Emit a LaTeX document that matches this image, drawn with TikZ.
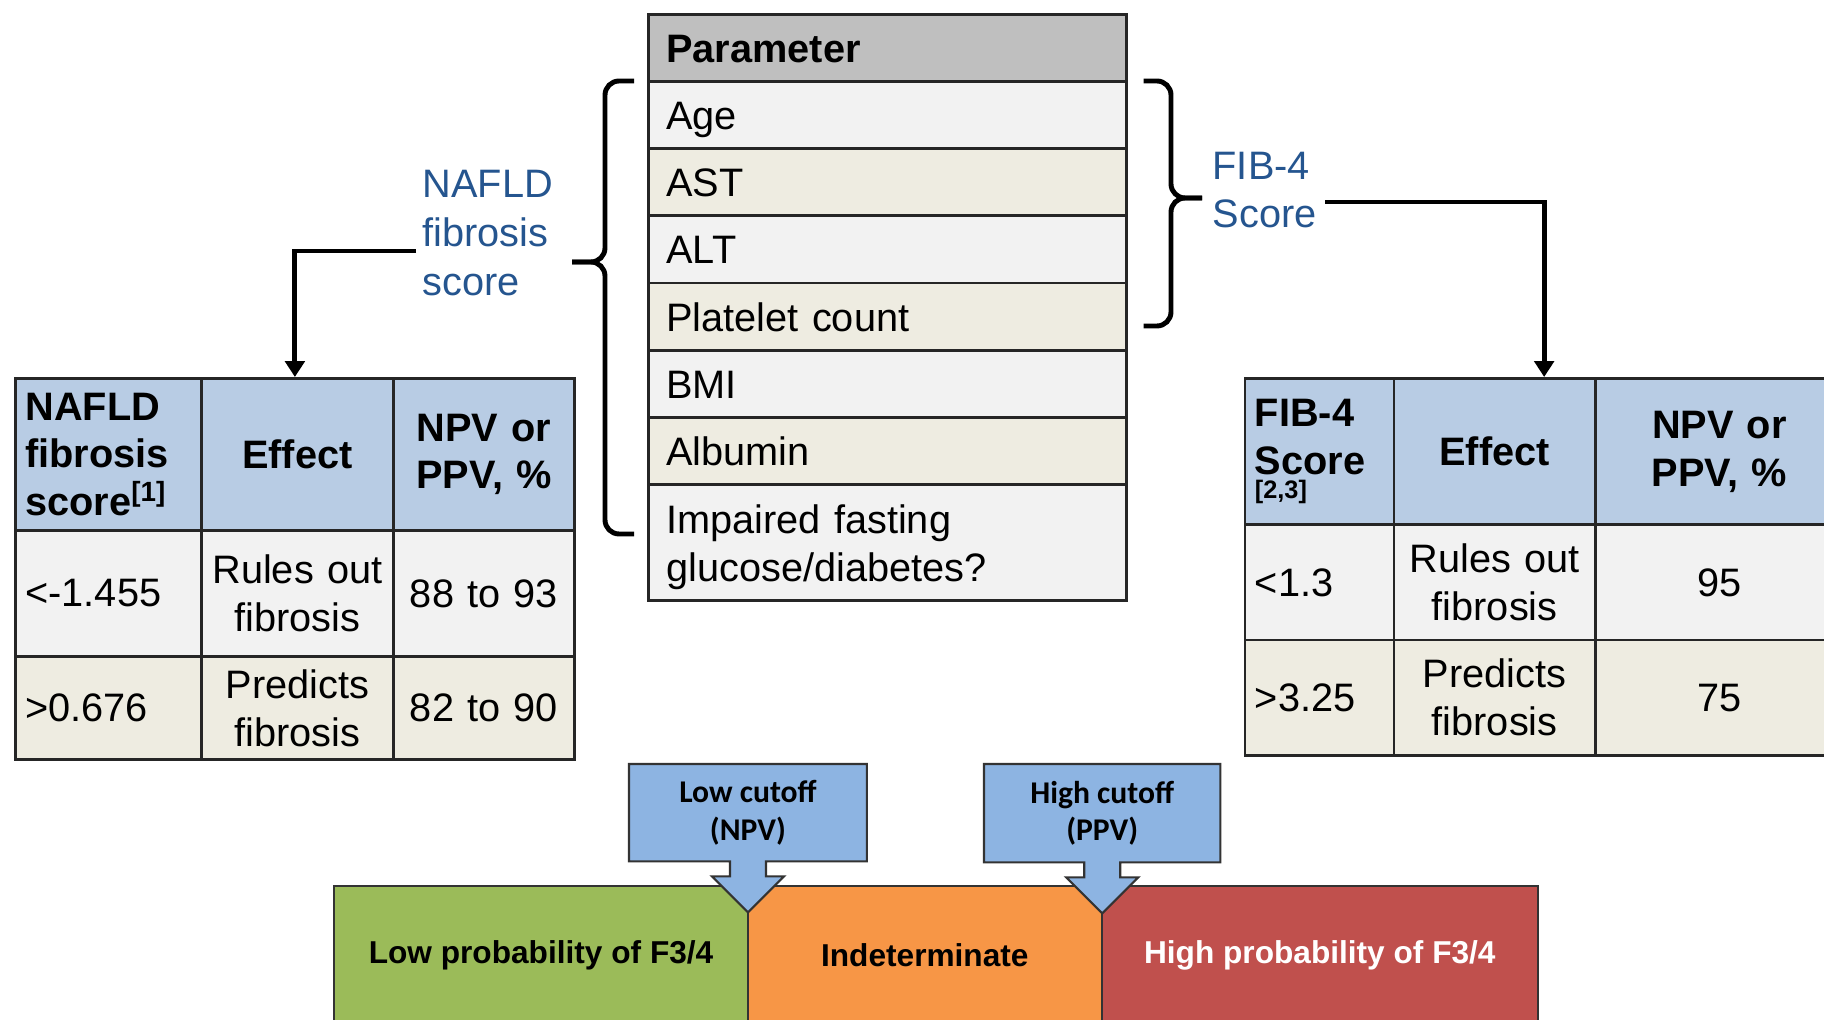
\documentclass[tikz,border=0pt]{standalone}
\usepackage{fontspec}
\setmainfont{Liberation Sans}
\newfontfamily\calibri{Carlito}
\usetikzlibrary{arrows.meta, calc, backgrounds}

\definecolor{headblue}{HTML}{B8CCE4}
\definecolor{rowgray}{HTML}{F2F2F2}
\definecolor{rowbeige}{HTML}{EEECE1}
\definecolor{paramgray}{HTML}{BFBFBF}
\definecolor{scoreblue}{HTML}{25558F}
\definecolor{cutblue}{HTML}{8DB4E2}
\definecolor{lowgreen}{HTML}{9BBB59}
\definecolor{midorange}{HTML}{F79646}
\definecolor{highred}{HTML}{C0504D}

\newcommand{\tabfont}{\fontsize{11.3}{13.6}\selectfont}

\tikzset{
  cell/.style={draw=black!85, line width=0.8pt, anchor=north west, inner xsep=0.1cm, inner ysep=0pt, font=\tabfont},
  head/.style={cell, fill=headblue, font=\tabfont\bfseries},
  param/.style={cell, inner xsep=0.18cm, text width=4.42cm, minimum height=0.672cm, align=left},
  oneline/.style={text height=8.2pt, text depth=0pt},
  score/.style={text=scoreblue, font=\fontsize{11.3}{13.9}\selectfont, align=left, inner sep=0pt, anchor=west},
  conn/.style={line width=1.4pt, -{Triangle[length=4.5pt,width=5.5pt]}},
  brace/.style={line width=1.4pt, rounded corners=4pt},
  bar/.style={draw=black!80, line width=0.6pt, anchor=north west, minimum height=1.38cm, font=\fontsize{9}{11}\selectfont\bfseries},
  cutoff/.style={anchor=north west, align=center, inner sep=0pt, font=\calibri\bfseries\fontsize{9}{10.6}\selectfont},
  callout/.style={fill=cutblue, draw=black!80, line width=0.6pt}
}

\begin{document}
\begin{tikzpicture}

    \useasboundingbox (0,0) rectangle (18.24,-10.2);

    % Parameter table
    \node[param, oneline, fill=paramgray, font=\tabfont\bfseries] (par0) at (6.47,-0.13) {Parameter};
    \foreach \txt/\col [count=\i] in {Age/rowgray, AST/rowbeige, ALT/rowgray, Platelet count/rowbeige, BMI/rowgray, Albumin/rowbeige} {
        \node[param, oneline, fill=\col] (par\i) at (6.47,{-0.80-(\i-1)*0.672}) {\txt};
    }
    \node[param, fill=rowgray, minimum height=1.16cm] (par7) at (6.47,-4.83) {\rule{0pt}{11pt}Impaired fasting\\glucose/diabetes?};

    % Braces
    \draw[brace] (6.34,-0.81) -- (6.05,-0.81) -- (6.05,-2.62) -- (5.72,-2.62);
    \draw[brace] (6.34,-5.34) -- (6.05,-5.34) -- (6.05,-2.62) -- (5.72,-2.62);
    \draw[brace] (11.435,-0.81) -- (11.71,-0.81) -- (11.71,-1.98) -- (12.02,-1.98);
    \draw[brace] (11.435,-3.26) -- (11.71,-3.26) -- (11.71,-1.98) -- (12.02,-1.98);

    % Score labels
    \node[score] (nafld) at (4.22,-2.33) {NAFLD\\fibrosis\\score};
    \node[score] (fib) at (12.12,-1.90) {FIB-4\\Score};

    % NAFLD table
    \node[head, text width=1.66cm, minimum height=1.52cm, align=left] (lh1) at (0.14,-3.77) {NAFLD\\fibrosis\\score\textsuperscript{[1]}};
    \node[head, text width=1.72cm, minimum height=1.52cm, align=center] (lh2) at (2.00,-3.77) {Effect};
    \node[head, text width=1.61cm, minimum height=1.52cm, align=center] (lh3) at (3.92,-3.77) {NPV or\\PPV, \%};
    \foreach \val/\eff/\pv/\col/\y/\h [count=\i] in {{<-1.455}/{Rules out\\fibrosis}/{88 to 93}/rowgray/5.29/1.26, {>0.676}/{Predicts\\fibrosis}/{82 to 90}/rowbeige/6.55/1.035} {
        \node[cell, fill=\col, text width=1.66cm, minimum height=\h cm, align=left] (l\i1) at (0.14,-\y) {\val};
        \node[cell, fill=\col, text width=1.72cm, minimum height=\h cm, align=center] (l\i2) at (2.00,-\y) {\eff};
        \node[cell, fill=\col, text width=1.61cm, minimum height=\h cm, align=center] (l\i3) at (3.92,-\y) {\pv};
    }

    % FIB-4 table
    \node[head, text width=1.29cm, minimum height=1.465cm, align=left] (rh1) at (12.435,-3.77) {FIB-4\\Score\\[-6.8pt]{\fontsize{7.2}{8}\selectfont[2,3]}};
    \node[head, text width=1.815cm, minimum height=1.465cm, align=center] (rh2) at (13.925,-3.77) {Effect};
    \node[head, text width=2.28cm, minimum height=1.465cm, align=center] (rh3) at (15.94,-3.77) {NPV or\\PPV, \%};
    \foreach \val/\eff/\pv/\col/\y/\h [count=\i] in {{<1.3}/{Rules out\\fibrosis}/{95}/rowgray/5.235/1.151, {>3.25}/{Predicts\\fibrosis}/{75}/rowbeige/6.386/1.154} {
        \node[cell, fill=\col, text width=1.29cm, minimum height=\h cm, align=left] (r\i1) at (12.435,-\y) {\val};
        \node[cell, fill=\col, text width=1.815cm, minimum height=\h cm, align=center] (r\i2) at (13.925,-\y) {\eff};
        \node[cell, fill=\col, text width=2.28cm, minimum height=\h cm, align=center] (r\i3) at (15.94,-\y) {\pv};
    }

    % Arrows to the tables
    \draw[conn] ([shift={(-0.06,-0.18)}]nafld.west) -| ($(lh1.north west)!0.5!(lh3.north east)$);
    \draw[conn] ([shift={(0.08,-0.12)}]fib.east) -| ($(rh1.north west)!0.5!(rh3.north east)$);

    % Cutoffs
    \node[cutoff, minimum width=2.365cm, minimum height=0.96cm] (lowcut) at (6.29,-7.64) {Low cutoff\\(NPV)};
    \node[cutoff, minimum width=2.35cm, minimum height=0.97cm] (highcut) at (9.84,-7.64) {High cutoff\\(PPV)};

    % Probability bands
    \begin{scope}[on background layer]
        \node[bar, fill=lowgreen, minimum width=4.14cm] (lowbar) at (3.33,-8.85) {Low probability of F3/4};
        \node[bar, fill=midorange, minimum width=3.535cm] (midbar) at (7.47,-8.85) {Indeterminate};
        \node[bar, fill=highred, minimum width=4.365cm, text=white] (highbar) at (11.005,-8.85) {High probability of F3/4};
        \foreach \c in {lowcut, highcut}
            \draw[callout] (\c.north west) -- (\c.north east) -- (\c.south east) -- ([xshift=1.8mm]\c.south) -- ++(0,-1.5mm) -- ++(1.8mm,0) -- ++(-3.6mm,-3.6mm) -- ++(-3.6mm,3.6mm) -- ++(1.8mm,0) -- ++(0,1.5mm) -- (\c.south west) -- cycle;
    \end{scope}

\end{tikzpicture}
\end{document}
